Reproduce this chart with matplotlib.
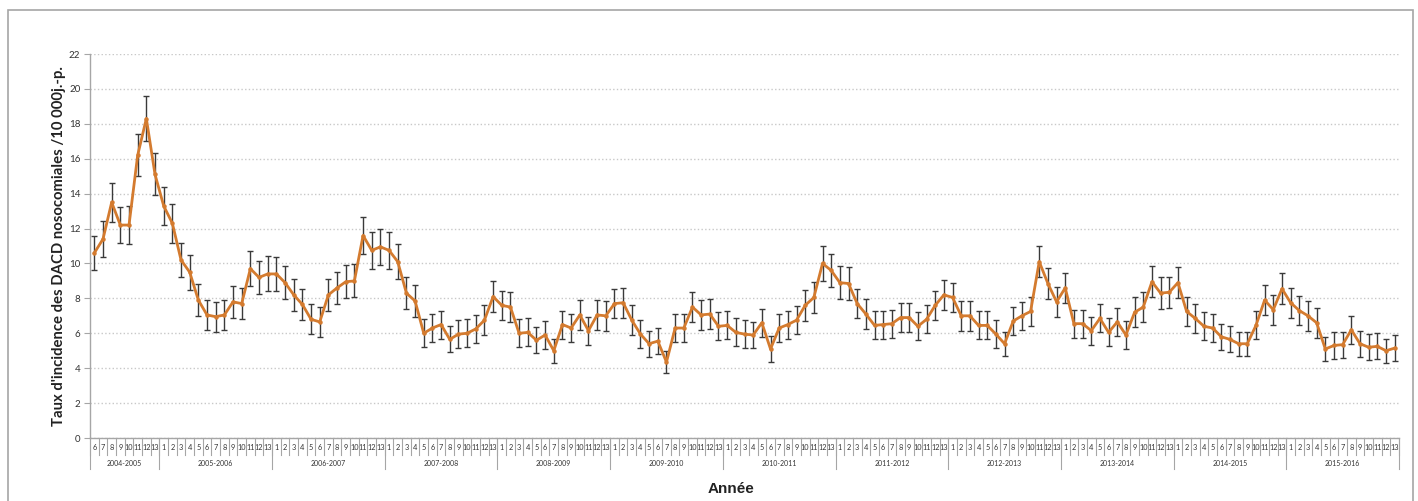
import numpy as np
import matplotlib.pyplot as plt
from matplotlib.transforms import blended_transform_factory
from matplotlib.patches import Rectangle

# Données : taux par période de 4 semaines (1..13) et saison
annees = ['2004-2005', '2005-2006', '2006-2007', '2007-2008', '2008-2009', '2009-2010',
          '2010-2011', '2011-2012', '2012-2013', '2013-2014', '2014-2015', '2015-2016']
periodes_0405 = [6, 7, 8, 9, 10, 11, 12, 13]
periodes = list(range(1, 14))

y0405 = [10.6, 11.4, 13.5, 12.2, 12.2, 16.2, 18.3, 15.1]
y0506 = [13.3, 12.3, 10.2, 9.5, 7.9, 7.05, 6.95, 7.05, 7.8, 7.7, 9.7, 9.2, 9.4]
y0607 = [9.4, 8.9, 8.2, 7.65, 6.8, 6.65, 8.2, 8.6, 8.95, 9.0, 11.6, 10.75, 10.95]
y0708 = [10.75, 10.1, 8.3, 7.85, 6.0, 6.3, 6.5, 5.65, 5.95, 6.0, 6.25, 6.75, 8.1]
y0809 = [7.6, 7.5, 6.0, 6.05, 5.6, 5.9, 5.0, 6.5, 6.3, 7.05, 6.15, 7.05, 7.0]
y0910 = [7.7, 7.75, 6.75, 5.95, 5.4, 5.55, 4.35, 6.3, 6.3, 7.5, 7.05, 7.1, 6.4]
y1011 = [6.45, 6.05, 5.95, 5.9, 6.6, 5.1, 6.3, 6.5, 6.75, 7.6, 8.05, 10.0, 9.6]
y1112 = [8.9, 8.85, 7.7, 7.1, 6.45, 6.5, 6.55, 6.9, 6.9, 6.4, 6.8, 7.6, 8.2]
y1213 = [8.05, 7.0, 7.0, 6.45, 6.45, 5.95, 5.4, 6.7, 7.0, 7.25, 10.1, 8.85, 7.8]
y1314 = [8.6, 6.55, 6.55, 6.15, 6.85, 6.05, 6.65, 5.9, 7.2, 7.5, 8.95, 8.3, 8.35]
y1415 = [8.9, 7.25, 6.85, 6.4, 6.3, 5.8, 5.65, 5.4, 5.4, 6.45, 7.9, 7.35, 8.55]
y1516 = [7.75, 7.3, 7.0, 6.6, 5.1, 5.3, 5.35, 6.2, 5.4, 5.2, 5.25, 5.0, 5.15]

# demi-largeur des intervalles de confiance
e0405 = [1.0, 1.05, 1.1, 1.05, 1.1, 1.2, 1.3, 1.2]
e0506 = [1.1, 1.1, 1.0, 1.0, 0.9, 0.85, 0.85, 0.85, 0.9, 0.9, 1.0, 0.95, 1.0]
e0607 = [0.95, 0.95, 0.9, 0.9, 0.85, 0.85, 0.9, 0.9, 0.95, 0.95, 1.05, 1.05, 1.05]
e0708 = [1.05, 1.0, 0.9, 0.9, 0.8, 0.8, 0.8, 0.75, 0.8, 0.8, 0.8, 0.85, 0.9]
e0809 = [0.85, 0.85, 0.8, 0.8, 0.75, 0.8, 0.7, 0.8, 0.8, 0.85, 0.8, 0.85, 0.85]
e0910 = [0.85, 0.85, 0.85, 0.8, 0.75, 0.75, 0.65, 0.8, 0.8, 0.85, 0.85, 0.85, 0.8]
e1011 = [0.8, 0.8, 0.8, 0.75, 0.8, 0.75, 0.8, 0.8, 0.8, 0.9, 0.9, 1.0, 0.95]
e1112 = [0.95, 0.95, 0.85, 0.85, 0.8, 0.8, 0.8, 0.85, 0.85, 0.8, 0.8, 0.85, 0.85]
e1213 = [0.85, 0.85, 0.85, 0.8, 0.8, 0.8, 0.7, 0.8, 0.8, 0.85, 0.9, 0.9, 0.85]
e1314 = [0.85, 0.8, 0.8, 0.8, 0.8, 0.8, 0.8, 0.8, 0.85, 0.85, 0.9, 0.9, 0.9]
e1415 = [0.9, 0.85, 0.85, 0.8, 0.8, 0.75, 0.75, 0.7, 0.7, 0.8, 0.85, 0.85, 0.9]
e1516 = [0.85, 0.85, 0.85, 0.85, 0.7, 0.75, 0.75, 0.8, 0.75, 0.75, 0.75, 0.7, 0.75]

series_y = [y0405, y0506, y0607, y0708, y0809, y0910, y1011, y1112, y1213, y1314, y1415, y1516]
series_e = [e0405, e0506, e0607, e0708, e0809, e0910, e1011, e1112, e1213, e1314, e1415, e1516]

valeurs = np.concatenate(series_y)
erreurs = np.concatenate(series_e)
labels_periodes = periodes_0405 + periodes * (len(annees) - 1)
tailles = [len(s) for s in series_y]
x = np.arange(len(valeurs))

# ---- Figure ----
W, H = 1418, 501
fig = plt.figure(figsize=(W / 100, H / 100), dpi=100)
fig.patch.set_facecolor('white')
# cadre gris du graphique
fig.add_artist(Rectangle((8 / W, -0.05), 1405 / W, 1.05 - 10 / H, transform=fig.transFigure,
                         fill=False, edgecolor='#a6a6a6', linewidth=1.2))

x0, x1, ytop, ybot = 90, 1399, 54, 438
ax = fig.add_axes([x0 / W, (H - ybot) / H, (x1 - x0) / W, (ybot - ytop) / H])

orange = '#D47B2F'
ax.errorbar(x, valeurs, yerr=erreurs, fmt='none', ecolor='#3a3a3a', elinewidth=1.0,
            capsize=2.2, capthick=1.0, zorder=2)
ax.plot(x, valeurs, color=orange, linewidth=2.0, marker='o', markersize=2.2, zorder=3)

ax.set_xlim(-0.5, len(valeurs) - 0.5)
ax.set_ylim(0, 22)
ax.set_yticks(np.arange(0, 23, 2))
ax.grid(axis='y', color='#c8c8c8', linestyle=':', linewidth=1.0)
ax.set_axisbelow(True)
for s in ['top', 'right']:
    ax.spines[s].set_visible(False)
for s in ['left', 'bottom']:
    ax.spines[s].set_color('#a6a6a6')
    ax.spines[s].set_linewidth(1.0)
ax.tick_params(axis='y', length=4, color='#a6a6a6', labelsize=7, labelcolor='#333333', pad=3)
for lab in ax.get_yticklabels():
    lab.set_fontfamily('Lato')

# axe des catégories : périodes et saisons
ax.set_xticks(x)
ax.set_xticklabels([str(p) for p in labels_periodes], fontsize=5.3, family='Lato', color='#333333')
ax.tick_params(axis='x', length=0, pad=4)

trans = blended_transform_factory(ax.transData, ax.transAxes)
ah = ybot - ytop
for b in np.arange(len(valeurs) + 1) - 0.5:
    ax.plot([b, b], [0, -17 / ah], transform=trans, color='#a6a6a6', linewidth=0.8, clip_on=False)
debut = 0
for annee, n in zip(annees, tailles):
    ax.plot([debut - 0.5, debut - 0.5], [0, -31 / ah], transform=trans, color='#a6a6a6',
            linewidth=0.8, clip_on=False)
    ax.text(debut + (n - 1) / 2, -25 / ah, annee, transform=trans, ha='center', va='center',
            fontsize=5, family='Lato', color='#333333')
    debut += n
ax.plot([debut - 0.5, debut - 0.5], [0, -31 / ah], transform=trans, color='#a6a6a6',
        linewidth=0.8, clip_on=False)

ax.set_ylabel("Taux d'incidence des DACD nosocomiales /10 000j.-p.", fontsize=10.7,
              family='Lato', fontweight='bold', color='#222222')
ax.yaxis.set_label_coords((66 - x0) / (x1 - x0), 0.5)
fig.text(731 / W, 1 - 489 / H, 'Année', ha='center', va='center', fontsize=11,
         fontweight='bold', family='Liberation Sans', color='#222222')

fig.savefig('out.png', dpi=100, facecolor='white')
